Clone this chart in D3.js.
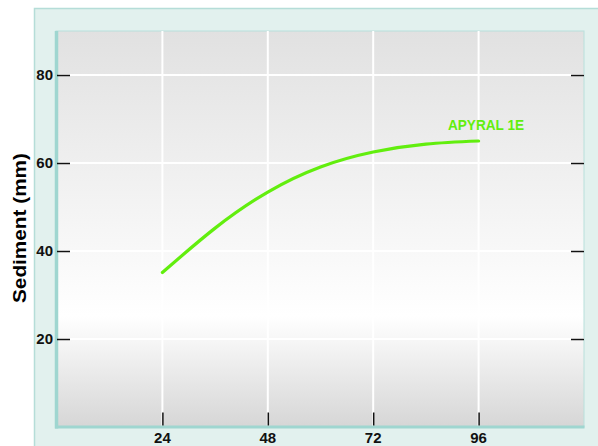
<!DOCTYPE html>
<html>
<head>
<meta charset="utf-8">
<script src="https://cdn.jsdelivr.net/npm/d3@7"></script>
<style>
  html, body { margin: 0; padding: 0; background: #fff; }
  svg { display: block; font-family: "Liberation Sans", Arial, sans-serif; }
</style>
</head>
<body>
<svg id="chart" width="598" height="446"></svg>
<script>
// data
const hours = [24, 36, 48, 60, 72, 84, 96];
const sediment = [35.1, 45.2, 53.4, 59.1, 62.5, 64.3, 65.0];
const seriesName = "APYRAL 1E";
const xTicks = [24, 48, 72, 96];
const yTicks = [20, 40, 60, 80];

const LineColor = "#62ee0e";
const PanelFill = "#e2f1ee";
const PanelBorder = "#b5ddd8";
const AxisTeal = "#9fd6d0";

const width = 598, height = 446;
const plot = { left: 56, top: 31, right: 584, bottom: 427 };

const svg = d3.select("#chart");

const x = d3.scaleLinear().domain([0, 120]).range([plot.left + 1, plot.right]);
const y = d3.scaleLinear().domain([0, 90]).range([plot.bottom, plot.top]);

// outer mint panel
svg.append("rect")
  .attr("x", 34.5).attr("y", 8.5)
  .attr("width", width).attr("height", height)
  .attr("fill", PanelFill).attr("stroke", PanelBorder).attr("stroke-width", 1.5);

// background gradient
const grad = svg.append("defs").append("linearGradient")
  .attr("id", "bg").attr("x1", 0).attr("y1", 0).attr("x2", 0).attr("y2", 1);
grad.append("stop").attr("offset", "0%").attr("stop-color", "#e1e1e1");
grad.append("stop").attr("offset", "72%").attr("stop-color", "#ffffff");
grad.append("stop").attr("offset", "100%").attr("stop-color", "#d6d6d6");

svg.append("rect")
  .attr("x", plot.left).attr("y", plot.top)
  .attr("width", plot.right - plot.left).attr("height", plot.bottom - plot.top)
  .attr("fill", "url(#bg)")
  .attr("stroke", "#b8e0db").attr("stroke-width", 1);

// grid
const grid = svg.append("g");
grid.selectAll(".gx").data(xTicks).join("line")
  .attr("x1", d => x(d)).attr("x2", d => x(d))
  .attr("y1", plot.top).attr("y2", plot.bottom)
  .attr("stroke", "#fff").attr("stroke-width", 2);
grid.selectAll(".gy").data(yTicks).join("line")
  .attr("x1", plot.left).attr("x2", plot.right)
  .attr("y1", d => y(d)).attr("y2", d => y(d))
  .attr("stroke", "#fff").attr("stroke-width", 2);

// thick left and bottom axis bars
svg.append("line")
  .attr("x1", plot.left + 0.5).attr("x2", plot.left + 0.5)
  .attr("y1", plot.top).attr("y2", plot.bottom + 1.5)
  .attr("stroke", AxisTeal).attr("stroke-width", 3.5);
svg.append("line")
  .attr("x1", plot.left - 1).attr("x2", plot.right + 0.5)
  .attr("y1", plot.bottom).attr("y2", plot.bottom)
  .attr("stroke", AxisTeal).attr("stroke-width", 3);

// axes (inward ticks)
const fontCss = "bold 15px 'Liberation Sans', Arial, sans-serif";

const yAxisL = svg.append("g")
  .attr("transform", `translate(${plot.left + 1},0)`)
  .call(d3.axisRight(y).tickValues(yTicks).tickSize(13).tickFormat(""));
const yAxisR = svg.append("g")
  .attr("transform", `translate(${plot.right},0)`)
  .call(d3.axisLeft(y).tickValues(yTicks).tickSize(13).tickFormat(""));
const xAxis = svg.append("g")
  .attr("transform", `translate(0,${plot.bottom - 1.5})`)
  .call(d3.axisTop(x).tickValues(xTicks).tickSize(13).tickFormat(""));

[yAxisL, yAxisR, xAxis].forEach(g => {
  g.select(".domain").remove();
  g.selectAll(".tick line").attr("stroke", "#111").attr("stroke-width", 1.5);
});

// tick labels
svg.append("g").selectAll("text").data(yTicks).join("text")
  .attr("x", plot.left - 3).attr("y", d => y(d))
  .attr("dy", "0.36em")
  .attr("text-anchor", "end")
  .style("font", fontCss).attr("fill", "#111")
  .text(d => d);

svg.append("g").selectAll("text").data(xTicks).join("text")
  .attr("x", d => x(d)).attr("y", 443)
  .attr("text-anchor", "middle")
  .style("font", fontCss).attr("fill", "#111")
  .text(d => d);

// y title
svg.append("text")
  .attr("transform", "translate(26,228) rotate(-90)")
  .attr("text-anchor", "middle")
  .attr("textLength", 150).attr("lengthAdjust", "spacingAndGlyphs")
  .style("font", "bold 18px 'Liberation Sans', Arial, sans-serif")
  .attr("fill", "#000")
  .text("Sediment (mm)");

// series line
const pts = hours.map((h, i) => [h, sediment[i]]);
const line = d3.line()
  .x(d => x(d[0])).y(d => y(d[1]))
  .curve(d3.curveNatural);

svg.append("path")
  .datum(pts)
  .attr("d", line)
  .attr("fill", "none")
  .attr("stroke", LineColor)
  .attr("stroke-width", 3.2)
  .attr("stroke-linecap", "round");

// series label
svg.append("text")
  .attr("x", 486).attr("y", 130)
  .attr("text-anchor", "middle")
  .attr("textLength", 76).attr("lengthAdjust", "spacingAndGlyphs")
  .style("font", "bold 14px 'Liberation Sans', Arial, sans-serif")
  .attr("fill", LineColor)
  .text(seriesName);
</script>
</body>
</html>
